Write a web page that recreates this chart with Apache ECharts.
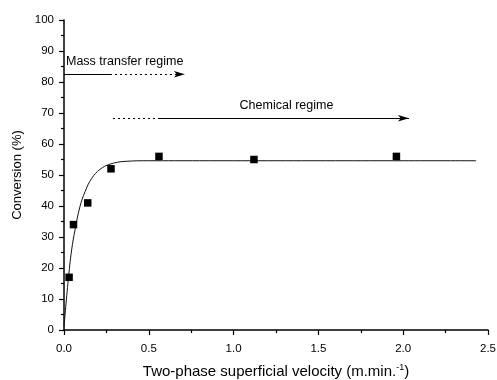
<!DOCTYPE html>
<html>
<head>
<meta charset="utf-8">
<script src="https://cdn.jsdelivr.net/npm/echarts@6/dist/echarts.min.js"></script>
<style>html,body{margin:0;padding:0;background:#fff}#c{width:497px;height:380px}</style>
</head>
<body>
<div id="c"></div>
<script>
// Measured points
const velocity = [0.03, 0.056, 0.14, 0.277, 0.56, 1.12, 1.96];
const conversion = [17, 34, 41, 52, 56, 55, 56];
// Fitted curve
const curveX = [0, 0.025, 0.045, 0.065, 0.094, 0.124, 0.163, 0.212, 0.271, 0.36, 0.5, 0.8, 1.2, 1.6, 2.0, 2.43];
const curveY = [1, 16.1, 25.8, 32.3, 39.8, 44.6, 48.9, 51.8, 53.5, 54.4, 54.6, 54.6, 54.6, 54.6, 54.6, 54.6];
// Regime arrows
const massArrow = {y: 82.5, solidEnd: 0.271, tip: 0.713, text: 'Mass transfer regime'};
const chemArrow = {y: 68.3, dotStart: 0.289, solidStart: 0.554, tip: 2.034, text: 'Chemical regime'};
const xTicks = [0, 0.5, 1.0, 1.5, 2.0, 2.5];
const yTicks = [0, 10, 20, 30, 40, 50, 60, 70, 80, 90, 100];

const font = 'Liberation Sans, Arial, sans-serif';
const chart = echarts.init(document.getElementById('c'));
chart.setOption({
  animation: false,
  grid: {left: 64, right: 9, top: 20, bottom: 50, containLabel: false, outerBoundsMode: 'none'},
  xAxis: {
    type: 'value', min: xTicks[0], max: xTicks[xTicks.length - 1], interval: 0.5,
    axisLine: {lineStyle: {color: '#000', width: 1.5}},
    axisTick: {length: 5, lineStyle: {color: '#000', width: 1.2}},
    minorTick: {show: true, splitNumber: 2, length: 3, lineStyle: {color: '#000', width: 1.2}},
    splitLine: {show: false},
    axisLabel: {color: '#000', fontFamily: font, fontSize: 11.5, margin: 13, formatter: v => v.toFixed(1)},
    name: '{n|Two-phase superficial velocity (m.min.}{s|-1}{n|)}',
    nameLocation: 'middle', nameGap: 33,
    nameTextStyle: {rich: {
      n: {fontFamily: font, fontSize: 15, color: '#000', lineHeight: 17},
      s: {fontFamily: font, fontSize: 9, color: '#000', verticalAlign: 'top', lineHeight: 9}
    }}
  },
  yAxis: {
    type: 'value', min: yTicks[0], max: yTicks[yTicks.length - 1], interval: 10,
    axisLine: {show: true, lineStyle: {color: '#000', width: 1.5}},
    axisTick: {show: true, length: 5, lineStyle: {color: '#000', width: 1.2}},
    minorTick: {show: true, splitNumber: 2, length: 3, lineStyle: {color: '#000', width: 1.2}},
    splitLine: {show: false},
    axisLabel: {color: '#000', fontFamily: font, fontSize: 11.5, margin: 10},
    name: 'Conversion (%)', nameLocation: 'middle', nameGap: 37,
    nameTextStyle: {fontFamily: font, fontSize: 13, color: '#000'}
  },
  series: [
    {
      type: 'line', data: curveX.map((x, i) => [x, curveY[i]]), smooth: 0.4,
      symbol: 'none', lineStyle: {color: '#111', width: 1}, z: 2,
      markLine: {
        silent: true, animation: false,
        symbol: ['none', 'none'],
        label: {show: false},
        data: [
          [{coord: [0, massArrow.y], lineStyle: {type: 'solid', color: '#000', width: 1.2},
            label: {show: true, formatter: massArrow.text, position: 'insideStartTop', distance: [2, 6], color: '#000', fontFamily: font, fontSize: 12.5}},
           {coord: [massArrow.solidEnd, massArrow.y]}],
          [{coord: [massArrow.solidEnd, massArrow.y], lineStyle: {type: [2, 3], color: '#000', width: 1.2}, symbol: 'none'},
           {coord: [massArrow.tip, massArrow.y], symbol: 'arrow', symbolSize: [5, 11]}],
          [{coord: [chemArrow.dotStart, chemArrow.y], lineStyle: {type: [2, 3], color: '#000', width: 1.2}},
           {coord: [chemArrow.solidStart, chemArrow.y]}],
          [{coord: [chemArrow.solidStart, chemArrow.y], lineStyle: {type: 'solid', color: '#000', width: 1.2}, symbol: 'none',
            label: {show: true, formatter: chemArrow.text, position: 'insideMiddleTop', distance: 6, padding: [0, 0, 0, 6], color: '#000', fontFamily: font, fontSize: 12.5}},
           {coord: [chemArrow.tip, chemArrow.y], symbol: 'arrow', symbolSize: [5, 11]}]
        ]
      }
    },
    {
      type: 'scatter', data: velocity.map((x, i) => [x, conversion[i]]),
      symbol: 'rect', symbolSize: 7.5, itemStyle: {color: '#000', opacity: 1}, z: 3
    }
  ]
});
</script>
</body>
</html>
